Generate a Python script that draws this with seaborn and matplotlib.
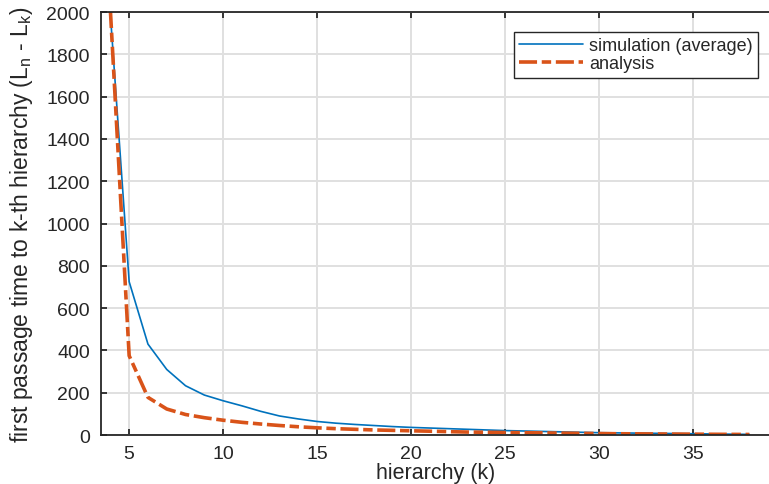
import matplotlib
matplotlib.use("Agg")

import pandas as pd
import matplotlib.pyplot as plt
import seaborn as sns

# hierarchy k
hierarquia = list(range(4, 39))

# simulation (average)
simulacao = [1990, 725, 430, 310, 233, 189, 162, 138, 112, 90,
             76, 64, 56, 50, 45, 40, 36, 33, 30, 27,
             24, 21, 19, 17, 15, 13, 11, 10, 9, 8,
             7, 6, 5, 4, 3]

# analysis
analise = [2010, 375, 178, 123, 97, 82, 70, 60, 52, 45,
           39, 34, 30, 27, 24, 22, 20, 18, 16, 14,
           13, 12, 11, 10, 9, 8, 7, 6, 5.5, 5,
           4.5, 4, 3.5, 3, 2.5]

x_ticks = [5, 10, 15, 20, 25, 30, 35]
y_ticks = list(range(0, 2001, 200))

AZUL = "#0072BD"
LARANJA = "#D95319"
ESCURO = "#262626"

sns.set_theme(style="whitegrid")
plt.rcParams["font.family"] = ["Liberation Sans", "DejaVu Sans"]
plt.rcParams["mathtext.default"] = "regular"

df = pd.DataFrame({"k": hierarquia, "sim": simulacao, "ana": analise})

fig = plt.figure(figsize=(7.69, 4.85), dpi=100)
ax = fig.add_axes([0.1313, 0.101, 0.87, 0.872])

sns.lineplot(data=df, x="k", y="sim", ax=ax, color=AZUL, linewidth=1.2,
             label="simulation (average)")
sns.lineplot(data=df, x="k", y="ana", ax=ax, color=LARANJA, linewidth=2.6,
             label="analysis")
ax.lines[1].set_dashes((5, 1.3, 2.6, 1.3))

ax.set_xlim(3.5, 39.1)
ax.set_ylim(0, 2000)
ax.set_xticks(x_ticks)
ax.set_yticks(y_ticks)

ax.grid(True, color="#e0e0e0", linewidth=1.4)
for lado in ["left", "bottom", "top"]:
    ax.spines[lado].set_color(ESCURO)
    ax.spines[lado].set_linewidth(1.3)
ax.spines["right"].set_visible(False)

ax.tick_params(axis="both", direction="in", length=4, width=1.3,
               color=ESCURO, labelsize=14, labelcolor=ESCURO)
ax.tick_params(axis="x", top=True, bottom=True, pad=7)
ax.tick_params(axis="y", left=True, right=False, pad=8)

ax.set_xlabel("hierarchy (k)", fontsize=15.5, color=ESCURO, labelpad=0)
ax.set_ylabel("first passage time to k-th hierarchy (L$_n$ - L$_k$)",
              fontsize=16.5, color=ESCURO, labelpad=8)

leg = ax.legend(loc="upper right", bbox_to_anchor=(0.982, 0.953),
                fontsize=13, frameon=True, fancybox=False,
                borderpad=0.3, labelspacing=0.05, handlelength=3.5,
                handletextpad=0.35, borderaxespad=0)
leg.get_frame().set_edgecolor(ESCURO)
leg.get_frame().set_linewidth(1.0)
leg.get_frame().set_alpha(1)

fig.savefig("out.png", dpi=100)
